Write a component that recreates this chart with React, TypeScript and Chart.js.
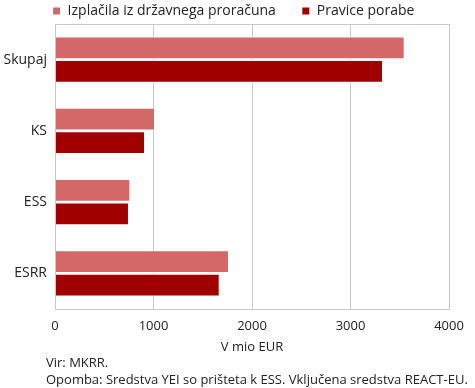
import React, { useEffect, useRef } from "react";
import { Chart, registerables } from "chart.js";

Chart.register(...registerables);

const categories = ["Skupaj", "KS", "ESS", "ESRR"];
const izplacila = [3550, 1015, 764, 1766];
const pravice = [3330, 914, 751, 1672];
const xTicks = [0, 1000, 2000, 3000, 4000];
const seriesNames = ["Izplačila iz državnega proračuna", "Pravice porabe"];
const axisTitle = "V mio EUR";
const notes = ["Vir: MKRR.", "Opomba: Sredstva YEI so prišteta k ESS. Vključena sredstva REACT-EU."];

const FONT = "'Open Sans', sans-serif";

const framePlugin = {
  id: "frame",
  beforeDraw(chart: any) {
    const l = chart.legend;
    if (l) {
      l.left = 9;
      l.right = 458;
      l.top = -22;
    }
  },
  afterDraw(chart: any) {
    const { ctx, chartArea: a } = chart;
    ctx.save();
    ctx.strokeStyle = "#c8c8c8";
    ctx.lineWidth = 1;
    ctx.strokeRect(Math.round(a.left) + 0.5, Math.round(a.top) + 0.5, Math.round(a.right - a.left), Math.round(a.bottom - a.top));
    ctx.restore();
  },
};

export default function App() {
  const ref = useRef<HTMLCanvasElement>(null);
  useEffect(() => {
    document.body.style.margin = "0";
    const chart = new Chart(ref.current!, {
      type: "bar",
      data: {
        labels: categories,
        datasets: [
          {
            label: seriesNames[0],
            data: izplacila,
            backgroundColor: "#d46767",
            borderColor: "#ffffff",
            borderWidth: 1,
            categoryPercentage: 0.665,
            barPercentage: 0.96,
          },
          {
            label: seriesNames[1],
            data: pravice,
            backgroundColor: "#a00000",
            borderColor: "#ffffff",
            borderWidth: 1,
            categoryPercentage: 0.665,
            barPercentage: 0.96,
          },
        ],
      },
      options: {
        indexAxis: "y",
        animation: false,
        responsive: false,
        layout: { padding: { left: 0, right: 26, top: -26, bottom: 33 } },
        plugins: {
          legend: {
            position: "top",
            labels: {
              boxWidth: 8,
              boxHeight: 8,
              padding: 26,
              color: "#222",
              font: { family: FONT, size: 14, lineHeight: 1 },
            },
          },
          tooltip: { enabled: false },
        },
        scales: {
          x: {
            min: 0,
            max: 4000,
            afterBuildTicks(axis: any) {
              axis.ticks = xTicks.map((v) => ({ value: v }));
            },
            afterFit(axis: any) {
              axis.height = 46;
            },
            grid: { color: "#c8c8c8", drawTicks: false },
            border: { display: false },
            ticks: { color: "#222", padding: 9, font: { family: FONT, size: 13 }, callback: (v: any) => String(v) },
            title: { display: true, text: axisTitle, color: "#222", padding: 0, font: { family: FONT, size: 13 } },
          },
          y: {
            afterFit(axis: any) {
              axis.width = 55;
            },
            grid: { display: false, drawTicks: false },
            border: { display: false },
            ticks: { color: "#222", padding: 8, font: { family: FONT, size: 14 } },
          },
        },
      },
      plugins: [framePlugin],
    } as any);
    return () => chart.destroy();
  }, []);
  return (
    <div style={{ position: "relative", width: 475, height: 388 }}>
      <canvas ref={ref} width={475} height={388} style={{ display: "block" }} />
      <div
        style={{
          position: "absolute",
          left: 46,
          top: 354,
          fontFamily: FONT,
          fontSize: 13,
          lineHeight: "17px",
          color: "#222",
          whiteSpace: "nowrap",
        }}
      >
        {notes.map((n) => (
          <div key={n}>{n}</div>
        ))}
      </div>
    </div>
  );
}
